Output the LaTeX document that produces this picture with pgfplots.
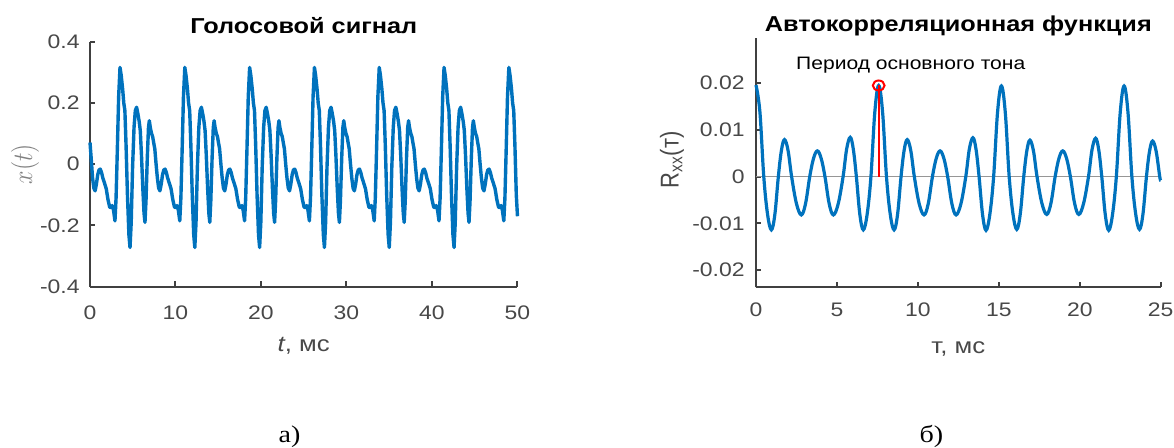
\documentclass[border=0pt]{standalone}
\usepackage{fontspec}
\setmainfont{Liberation Sans}[FakeStretch=1.17]
\newfontfamily\plainsans{Liberation Sans}
\newfontfamily\serifst{Liberation Serif}[FakeStretch=1.17]
\usepackage{graphicx}
\usepackage{pgfplots}
\pgfplotsset{compat=1.18}
\definecolor{mblue}{RGB}{0,114,189}
\definecolor{axgray}{RGB}{64,64,64}
\definecolor{lblgray}{RGB}{72,72,72}
\definecolor{zgray}{RGB}{150,150,150}
\pgfplotsset{mstyle/.style={
  scale only axis,
  axis x line*=bottom, axis y line*=left,
  axis line style={-, draw=axgray, line width=1.1pt},
  tick align=inside, major tick length=2.6pt,
  tick style={draw=axgray, line width=1pt},
  scaled x ticks=false, scaled y ticks=false,
  tick label style={font=\fontsize{9.8}{11}\selectfont, text=lblgray},
  label style={font=\fontsize{11}{13}\selectfont, text=lblgray},
  every axis title shift=0pt,
  title style={font=\fontsize{10.8}{13}\selectfont\bfseries, text=black, anchor=base, yshift=0pt},
  clip=false,
}}
\begin{document}
\begin{tikzpicture}
\useasboundingbox (0,0) rectangle (587pt,-224pt);
% ---------------- left: voice signal ----------------
\begin{axis}[mstyle,
  at={(45pt,-143.35pt)}, anchor=south west,
  width=213.75pt, height=122.5pt,
  xmin=0, xmax=50, ymin=-0.4, ymax=0.4,
  xtick={0,10,20,30,40,50}, xticklabels={0,10,20,30,40,50},
  ytick={-0.4,-0.2,0,0.2,0.4}, yticklabels={-0.4,-0.2,0,0.2,0.4},
  xticklabel shift=5.9pt, yticklabel shift=1.7pt,
  title={Голосовой сигнал},
  title style={at={(axis description cs:0.5,1.0355)}},
  xlabel={\textit{t}, мс},
  xlabel style={at={(axis description cs:0.5,-0.2665)}, anchor=base},
  ylabel={\scalebox{1}[1.17]{\fontsize{11.5}{13}\selectfont$x(t)$}},
  ylabel style={at={(axis description cs:-0.152,0.5)}, anchor=center, text=gray},
]
\addplot[mblue, line width=1.7pt, line join=round] coordinates {
(0,0.071) (0.15,0.015) (0.30,-0.045) (0.45,-0.078) (0.60,-0.087) (0.75,-0.065) (0.90,-0.035) (1.05,-0.019) (1.20,-0.016) (1.35,-0.027) (1.50,-0.045) (1.70,-0.062) (1.90,-0.080) (2.10,-0.115) (2.30,-0.140) (2.45,-0.142) (2.60,-0.135) (2.75,-0.150) (2.92,-0.185) (3.05,-0.110) (3.20,0.050) (3.35,0.220) (3.51,0.316) (3.65,0.290) (3.82,0.245) (3.95,0.200) (4.08,0.175) (4.22,0.060) (4.38,-0.100) (4.55,-0.230) (4.68,-0.272) (4.82,-0.190) (4.98,-0.010) (5.15,0.120) (5.30,0.175) (5.45,0.186) (5.60,0.165) (5.75,0.140) (5.88,0.110) (6.02,0.030) (6.18,-0.080) (6.32,-0.160) (6.43,-0.190) (6.55,-0.120) (6.70,0.020) (6.84,0.120) (6.94,0.142) (7.05,0.120) (7.20,0.100) (7.33,0.090) (7.45,0.070)
(7.58,0.050) (7.73,0.000) (7.88,-0.045) (8.03,-0.078) (8.18,-0.087) (8.33,-0.065) (8.48,-0.035) (8.63,-0.019) (8.78,-0.016) (8.93,-0.027) (9.08,-0.045) (9.28,-0.062) (9.48,-0.080) (9.68,-0.115) (9.88,-0.140) (10.03,-0.142) (10.18,-0.135) (10.33,-0.150) (10.50,-0.185) (10.63,-0.110) (10.78,0.050) (10.93,0.220) (11.09,0.316) (11.23,0.290) (11.40,0.245) (11.53,0.200) (11.66,0.175) (11.80,0.060) (11.96,-0.100) (12.13,-0.230) (12.26,-0.272) (12.40,-0.190) (12.56,-0.010) (12.73,0.120) (12.88,0.175) (13.03,0.186) (13.18,0.165) (13.33,0.140) (13.46,0.110) (13.60,0.030) (13.76,-0.080) (13.90,-0.160) (14.01,-0.190) (14.13,-0.120) (14.28,0.020) (14.42,0.120) (14.52,0.142) (14.63,0.120) (14.78,0.100) (14.91,0.090) (15.03,0.070)
(15.16,0.050) (15.31,0.000) (15.46,-0.045) (15.61,-0.078) (15.76,-0.087) (15.91,-0.065) (16.06,-0.035) (16.21,-0.019) (16.36,-0.016) (16.51,-0.027) (16.66,-0.045) (16.86,-0.062) (17.06,-0.080) (17.26,-0.115) (17.46,-0.140) (17.61,-0.142) (17.76,-0.135) (17.91,-0.150) (18.08,-0.185) (18.21,-0.110) (18.36,0.050) (18.51,0.220) (18.67,0.316) (18.81,0.290) (18.98,0.245) (19.11,0.200) (19.24,0.175) (19.38,0.060) (19.54,-0.100) (19.71,-0.230) (19.84,-0.272) (19.98,-0.190) (20.14,-0.010) (20.31,0.120) (20.46,0.175) (20.61,0.186) (20.76,0.165) (20.91,0.140) (21.04,0.110) (21.18,0.030) (21.34,-0.080) (21.48,-0.160) (21.59,-0.190) (21.71,-0.120) (21.86,0.020) (22.00,0.120) (22.10,0.142) (22.21,0.120) (22.36,0.100) (22.49,0.090) (22.61,0.070)
(22.74,0.050) (22.89,0.000) (23.04,-0.045) (23.19,-0.078) (23.34,-0.087) (23.49,-0.065) (23.64,-0.035) (23.79,-0.019) (23.94,-0.016) (24.09,-0.027) (24.24,-0.045) (24.44,-0.062) (24.64,-0.080) (24.84,-0.115) (25.04,-0.140) (25.19,-0.142) (25.34,-0.135) (25.49,-0.150) (25.66,-0.185) (25.79,-0.110) (25.94,0.050) (26.09,0.220) (26.25,0.316) (26.39,0.290) (26.56,0.245) (26.69,0.200) (26.82,0.175) (26.96,0.060) (27.12,-0.100) (27.29,-0.230) (27.42,-0.272) (27.56,-0.190) (27.72,-0.010) (27.89,0.120) (28.04,0.175) (28.19,0.186) (28.34,0.165) (28.49,0.140) (28.62,0.110) (28.76,0.030) (28.92,-0.080) (29.06,-0.160) (29.17,-0.190) (29.29,-0.120) (29.44,0.020) (29.58,0.120) (29.68,0.142) (29.79,0.120) (29.94,0.100) (30.07,0.090) (30.19,0.070)
(30.32,0.050) (30.47,0.000) (30.62,-0.045) (30.77,-0.078) (30.92,-0.087) (31.07,-0.065) (31.22,-0.035) (31.37,-0.019) (31.52,-0.016) (31.67,-0.027) (31.82,-0.045) (32.02,-0.062) (32.22,-0.080) (32.42,-0.115) (32.62,-0.140) (32.77,-0.142) (32.92,-0.135) (33.07,-0.150) (33.24,-0.185) (33.37,-0.110) (33.52,0.050) (33.67,0.220) (33.83,0.316) (33.97,0.290) (34.14,0.245) (34.27,0.200) (34.40,0.175) (34.54,0.060) (34.70,-0.100) (34.87,-0.230) (35.00,-0.272) (35.14,-0.190) (35.30,-0.010) (35.47,0.120) (35.62,0.175) (35.77,0.186) (35.92,0.165) (36.07,0.140) (36.20,0.110) (36.34,0.030) (36.50,-0.080) (36.64,-0.160) (36.75,-0.190) (36.87,-0.120) (37.02,0.020) (37.16,0.120) (37.26,0.142) (37.37,0.120) (37.52,0.100) (37.65,0.090) (37.77,0.070)
(37.90,0.050) (38.05,0.000) (38.20,-0.045) (38.35,-0.078) (38.50,-0.087) (38.65,-0.065) (38.80,-0.035) (38.95,-0.019) (39.10,-0.016) (39.25,-0.027) (39.40,-0.045) (39.60,-0.062) (39.80,-0.080) (40.00,-0.115) (40.20,-0.140) (40.35,-0.142) (40.50,-0.135) (40.65,-0.150) (40.82,-0.185) (40.95,-0.110) (41.10,0.050) (41.25,0.220) (41.41,0.316) (41.55,0.290) (41.72,0.245) (41.85,0.200) (41.98,0.175) (42.12,0.060) (42.28,-0.100) (42.45,-0.230) (42.58,-0.272) (42.72,-0.190) (42.88,-0.010) (43.05,0.120) (43.20,0.175) (43.35,0.186) (43.50,0.165) (43.65,0.140) (43.78,0.110) (43.92,0.030) (44.08,-0.080) (44.22,-0.160) (44.33,-0.190) (44.45,-0.120) (44.60,0.020) (44.74,0.120) (44.84,0.142) (44.95,0.120) (45.10,0.100) (45.23,0.090) (45.35,0.070)
(45.48,0.050) (45.63,0.000) (45.78,-0.045) (45.93,-0.078) (46.08,-0.087) (46.23,-0.065) (46.38,-0.035) (46.53,-0.019) (46.68,-0.016) (46.83,-0.027) (46.98,-0.045) (47.18,-0.062) (47.38,-0.080) (47.58,-0.115) (47.78,-0.140) (47.93,-0.142) (48.08,-0.135) (48.23,-0.150) (48.40,-0.185) (48.53,-0.110) (48.68,0.050) (48.83,0.220) (48.99,0.316) (49.13,0.290) (49.30,0.245) (49.43,0.200) (49.56,0.175) (49.70,0.060) (49.86,-0.100) (50.00,-0.170)
};
\end{axis}
% ---------------- right: autocorrelation ----------------
\begin{axis}[mstyle,
  at={(378pt,-143.65pt)}, anchor=south west,
  width=202.35pt, height=124.5pt,
  xmin=0, xmax=25, ymin=-0.0237, ymax=0.0296,
  xtick={0,5,10,15,20,25}, xticklabels={0,5,10,15,20,25},
  ytick={-0.02,-0.01,0,0.01,0.02}, yticklabels={-0.02,-0.01,0,0.01,0.02},
  xticklabel shift=4.2pt, yticklabel shift=2.2pt,
  title={Автокорреляционная функция},
  title style={at={(axis description cs:0.5,1.0265)}},
  xlabel={т, мс},
  xlabel style={at={(axis description cs:0.5,-0.265)}, anchor=base},
  ylabel={\scalebox{1}[1.17]{\plainsans R\textsubscript{xx}(т)}},
  ylabel style={at={(axis description cs:-0.2076,0.511)}, anchor=center},
]
\addplot[zgray, line width=0.6pt] coordinates {(0,0) (25,0)};
\addplot[mblue, line width=1.6pt, smooth, tension=0.6] coordinates {
(0.00,0.0196) (0.24,0.0139) (0.48,0) (0.715,-0.0081) (0.95,-0.0114) (1.165,-0.0081) (1.38,0) (1.57,0.0056) (1.76,0.0079) (1.98,0.0056) (2.20,0) (2.50,-0.0058) (2.80,-0.0082) (3.06,-0.0058) (3.32,0) (3.555,0.0039) (3.79,0.0055) (4.025,0.0039) (4.26,0) (4.52,-0.0058) (4.78,-0.0082) (5.08,-0.0058) (5.38,0) (5.60,0.0059) (5.82,0.0084) (6.01,0.0059) (6.20,0) (6.415,-0.0081) (6.63,-0.0114) (6.865,-0.0081) (7.10,0) (7.34,0.0138) (7.58,0.0195)
(7.82,0.0138) (8.06,0) (8.295,-0.0081) (8.53,-0.0114) (8.745,-0.0081) (8.96,0) (9.15,0.0056) (9.34,0.0079) (9.56,0.0056) (9.78,0) (10.08,-0.0058) (10.38,-0.0082) (10.64,-0.0058) (10.90,0) (11.135,0.0039) (11.37,0.0055) (11.605,0.0039) (11.84,0) (12.10,-0.0058) (12.36,-0.0082) (12.66,-0.0058) (12.96,0) (13.18,0.0059) (13.40,0.0083) (13.59,0.0059) (13.78,0) (13.995,-0.0081) (14.21,-0.0115) (14.445,-0.0081) (14.68,0) (14.92,0.0137) (15.16,0.0194)
(15.40,0.0137) (15.64,0) (15.875,-0.0080) (16.11,-0.0113) (16.325,-0.0080) (16.54,0) (16.73,0.0055) (16.92,0.0078) (17.14,0.0055) (17.36,0) (17.66,-0.0057) (17.96,-0.0081) (18.22,-0.0057) (18.48,0) (18.715,0.0039) (18.95,0.0055) (19.185,0.0039) (19.42,0) (19.68,-0.0057) (19.94,-0.0081) (20.24,-0.0057) (20.54,0) (20.76,0.0058) (20.98,0.0082) (21.17,0.0058) (21.36,0) (21.575,-0.0081) (21.79,-0.0115) (22.025,-0.0081) (22.26,0) (22.50,0.0137) (22.74,0.0194)
(22.98,0.0137) (23.22,0) (23.455,-0.0080) (23.69,-0.0113) (23.905,-0.0080) (24.12,0) (24.31,0.0054) (24.50,0.0076) (24.72,0.0054) (24.94,0) (25.00,-0.0008)
};
\addplot[red, line width=1.1pt] coordinates {(7.58,0) (7.58,0.0195)};
\addplot[red, only marks, mark=o, mark size=2.5pt, mark options={line width=1pt, xscale=1.17}] coordinates {(7.58,0.0195)};
\node[anchor=base, font=\fontsize{9}{11}\selectfont, text=black] at (axis cs:9.56,0.0229) {Период основного тона};
\end{axis}
% ---------------- panel letters ----------------
\node[anchor=base, font=\serifst\fontsize{12}{14}\selectfont] at (144.75pt,-221.5pt) {а)};
\node[anchor=base, font=\serifst\fontsize{12}{14}\selectfont] at (465.75pt,-221.5pt) {б)};
\end{tikzpicture}
\end{document}
